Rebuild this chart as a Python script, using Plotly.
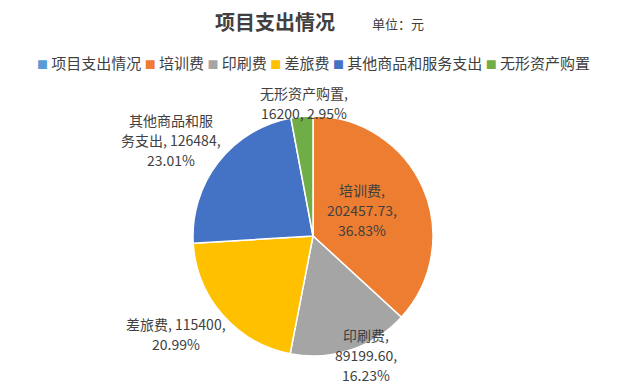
import plotly.graph_objects as go

categories = ["项目支出情况", "培训费", "印刷费", "差旅费", "其他商品和服务支出", "无形资产购置"]
values = [0, 202457.73, 89199.60, 115400, 126484, 16200]
value_text = ["", "202457.73", "89199.60", "115400", "126484", "16200"]
percents = ["", "36.83%", "16.23%", "20.99%", "23.01%", "2.95%"]
colors = ["#5B9BD5", "#ED7D31", "#A5A5A5", "#FFC000", "#4472C4", "#70AD47"]

W, H = 628, 384
FONT = "Noto Sans CJK SC, Microsoft YaHei, sans-serif"

fig = go.Figure()
fig.add_trace(go.Pie(
    labels=categories,
    values=values,
    sort=False,
    direction="clockwise",
    rotation=0,
    marker=dict(colors=colors, line=dict(color="white", width=1.5)),
    textinfo="none",
    hoverinfo="label+value+percent",
    showlegend=False,
    domain=dict(x=[(313 - 120) / W, (313 + 120) / W], y=[1 - 356 / H, 1 - 116 / H]),
))

# label text lines built from data
label_lines = {
    1: [f"{categories[1]},", f"{value_text[1]},", percents[1]],
    2: [f"{categories[2]},", f"{value_text[2]},", percents[2]],
    3: [f"{categories[3]}, {value_text[3]},", percents[3]],
    4: [categories[4][:6], f"{categories[4][6:]}, {value_text[4]},", percents[4]],
    5: [f"{categories[5]},", f"{value_text[5]}, {percents[5]}"],
}
label_pos = {  # center x, first-line y (pixels)
    1: (362, 190),
    2: (366, 335),
    3: (176, 324),
    4: (171, 120),
    5: (304, 93),
}
annotations = []
for i, lines in label_lines.items():
    cx, y0 = label_pos[i]
    for k, line in enumerate(lines):
        annotations.append(dict(
            text=line, x=cx / W, y=1 - (y0 + k * 20) / H, xref="paper", yref="paper",
            xanchor="center", yanchor="middle", showarrow=False,
            font=dict(size=14, color="#404040", family=FONT),
        ))

annotations.append(dict(
    text="<b>项目支出情况</b>", x=275 / W, y=1 - 21 / H, xref="paper", yref="paper",
    xanchor="center", yanchor="middle", showarrow=False,
    font=dict(size=20, color="#404040", family=FONT),
))
annotations.append(dict(
    text="单位：元", x=398 / W, y=1 - 23 / H, xref="paper", yref="paper",
    xanchor="center", yanchor="middle", showarrow=False,
    font=dict(size=13, color="#404040", family=FONT),
))

# custom legend (single row), built from categories/colors
legend_parts = []
for name, col in zip(categories, colors):
    legend_parts.append(
        f'<span style="color:{col};font-size:11px">■</span> {name}'
    )
annotations.append(dict(
    text=" ".join(legend_parts), x=313 / W, y=1 - 62 / H, xref="paper", yref="paper",
    xanchor="center", yanchor="middle", showarrow=False,
    font=dict(size=15, color="#404040", family=FONT),
))

fig.update_layout(
    width=W, height=H,
    margin=dict(l=0, r=0, t=0, b=0),
    paper_bgcolor="white",
    plot_bgcolor="white",
    annotations=annotations,
    showlegend=False,
)

fig.write_html("out.html")
